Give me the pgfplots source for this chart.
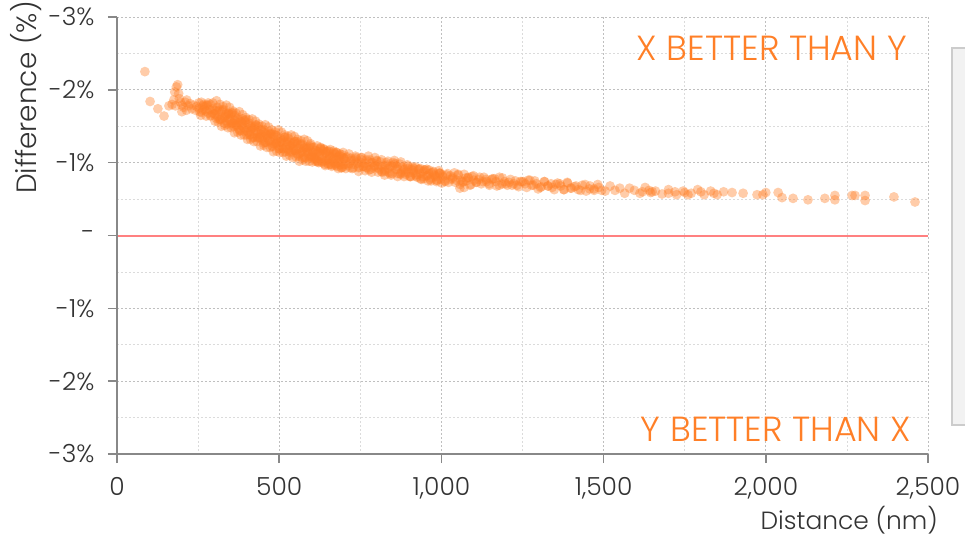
\documentclass[border=0pt]{standalone}
\usepackage{fontspec}
\setmainfont{Poppins}[UprightFont={* Light}]
\usepackage{pgfplots}
\pgfplotsset{compat=1.18}
\definecolor{orng}{RGB}{255,127,39}
\definecolor{zl}{RGB}{255,128,128}
\definecolor{axgray}{RGB}{136,136,136}
\definecolor{txt}{RGB}{51,51,51}
\pgfplotstableread{
x y
86 -2.25
102 -1.84
126 -1.74
145 -1.64
160 -1.78
170 -1.80
175 -1.86
180 -1.78
178 -1.97
183 -2.04
187 -2.07
190 -1.95
192 -1.88
196 -1.83
200 -1.79
200 -1.70
205 -1.76
210 -1.83
214 -1.72
215 -1.86
220 -1.78
225 -1.81
230 -1.74
236 -1.79
242 -1.72
246 -1.77
255 -1.70
260 -1.83
265 -1.72
270 -1.77
275 -1.64
280 -1.79
285 -1.73
290 -1.65
295 -1.82
300 -1.67
305 -1.71
310 -1.63
315 -1.73
320 -1.59
252 -1.82
258 -1.65
264 -1.78
270 -1.73
276 -1.79
282 -1.68
288 -1.80
294 -1.68
300 -1.72
306 -1.61
312 -1.71
318 -1.60
253 -1.75
260 -1.69
267 -1.80
274 -1.71
281 -1.82
288 -1.64
295 -1.74
302 -1.67
309 -1.76
316 -1.59
323 -1.70
324 -1.61
328 -1.73
332 -1.62
336 -1.66
340 -1.53
344 -1.67
348 -1.60
352 -1.53
356 -1.69
360 -1.54
364 -1.58
368 -1.50
372 -1.60
376 -1.46
380 -1.57
384 -1.51
388 -1.60
392 -1.47
396 -1.56
400 -1.38
404 -1.42
408 -1.54
412 -1.43
416 -1.48
420 -1.35
424 -1.49
428 -1.42
432 -1.34
436 -1.50
440 -1.35
444 -1.39
448 -1.31
452 -1.42
456 -1.28
460 -1.39
464 -1.33
468 -1.43
472 -1.30
476 -1.39
480 -1.22
484 -1.26
488 -1.38
492 -1.27
496 -1.32
500 -1.19
504 -1.33
508 -1.27
512 -1.19
516 -1.35
520 -1.21
524 -1.25
528 -1.18
532 -1.28
536 -1.14
540 -1.26
544 -1.20
548 -1.29
552 -1.17
556 -1.26
560 -1.09
564 -1.13
568 -1.26
572 -1.15
576 -1.19
580 -1.07
584 -1.21
588 -1.15
592 -1.07
596 -1.24
600 -1.09
604 -1.14
608 -1.06
612 -1.17
616 -1.03
620 -1.15
624 -1.09
628 -1.19
632 -1.06
636 -1.16
640 -0.98
644 -1.03
648 -1.15
652 -1.05
656 -1.09
660 -0.97
664 -1.12
668 -1.05
672 -0.98
676 -1.14
680 -1.00
684 -1.05
688 -0.97
692 -1.08
696 -0.94
700 -1.06
326 -1.72
332 -1.54
338 -1.67
344 -1.60
350 -1.66
356 -1.54
362 -1.65
368 -1.52
374 -1.55
380 -1.44
386 -1.54
392 -1.43
398 -1.59
404 -1.52
410 -1.38
416 -1.47
422 -1.40
428 -1.51
434 -1.35
440 -1.39
446 -1.45
452 -1.27
458 -1.40
464 -1.34
470 -1.39
476 -1.27
482 -1.39
488 -1.26
494 -1.30
500 -1.19
506 -1.30
512 -1.19
518 -1.35
524 -1.29
530 -1.15
536 -1.24
542 -1.18
548 -1.29
554 -1.13
560 -1.19
566 -1.25
572 -1.07
578 -1.20
584 -1.14
590 -1.20
596 -1.09
602 -1.21
608 -1.08
614 -1.12
620 -1.02
626 -1.13
632 -1.02
638 -1.18
644 -1.13
650 -0.99
656 -1.08
662 -1.03
668 -1.14
674 -0.99
680 -1.04
686 -1.10
692 -0.93
698 -1.06
333 -1.64
338 -1.57
343 -1.68
348 -1.57
353 -1.68
358 -1.50
363 -1.59
368 -1.52
373 -1.62
378 -1.44
383 -1.56
388 -1.49
393 -1.58
398 -1.44
403 -1.48
408 -1.39
413 -1.50
418 -1.34
423 -1.46
428 -1.52
433 -1.41
438 -1.34
443 -1.45
448 -1.34
453 -1.45
458 -1.28
463 -1.37
468 -1.30
473 -1.40
478 -1.23
483 -1.35
488 -1.28
493 -1.37
498 -1.23
503 -1.28
508 -1.20
513 -1.31
518 -1.15
523 -1.27
528 -1.33
533 -1.23
538 -1.16
543 -1.27
548 -1.17
553 -1.29
558 -1.11
563 -1.20
568 -1.14
573 -1.24
578 -1.07
583 -1.19
588 -1.13
593 -1.22
598 -1.08
603 -1.14
608 -1.05
613 -1.16
618 -1.01
623 -1.13
628 -1.20
633 -1.09
638 -1.02
643 -1.14
648 -1.04
653 -1.16
658 -0.98
663 -1.08
668 -1.01
673 -1.12
678 -0.95
683 -1.08
688 -1.01
693 -1.11
698 -0.97
302 -1.57
307 -1.85
312 -1.56
317 -1.80
322 -1.50
327 -1.77
332 -1.51
337 -1.79
342 -1.48
347 -1.76
352 -1.48
357 -1.71
362 -1.41
367 -1.68
372 -1.42
377 -1.70
382 -1.38
387 -1.66
392 -1.38
397 -1.62
402 -1.32
407 -1.59
412 -1.32
417 -1.60
422 -1.29
427 -1.57
432 -1.29
437 -1.53
442 -1.23
447 -1.50
452 -1.24
457 -1.52
462 -1.21
467 -1.49
472 -1.21
477 -1.45
482 -1.15
487 -1.42
492 -1.16
497 -1.45
502 -1.14
507 -1.42
512 -1.14
517 -1.38
522 -1.09
527 -1.36
532 -1.10
537 -1.38
542 -1.07
547 -1.36
552 -1.08
557 -1.32
562 -1.02
567 -1.30
572 -1.04
577 -1.32
582 -1.02
587 -1.30
592 -1.02
597 -1.26
602 -1.01
607 -1.21
612 -1.02
617 -1.23
622 -1.00
627 -1.21
632 -1.00
637 -1.19
642 -0.96
647 -1.16
652 -0.97
657 -1.18
662 -0.95
667 -1.16
672 -0.96
677 -1.14
682 -0.92
687 -1.12
692 -0.93
697 -1.14
704 -0.98
710 -1.08
716 -0.99
722 -1.03
728 -0.93
734 -1.05
740 -1.00
746 -0.94
752 -1.07
758 -0.95
764 -0.99
770 -0.93
776 -1.01
782 -0.91
788 -1.00
794 -0.96
800 -1.03
806 -0.93
812 -1.01
818 -0.87
824 -0.90
830 -1.00
836 -0.92
842 -0.95
848 -0.85
854 -0.97
860 -0.91
866 -0.85
872 -0.98
878 -0.87
884 -0.90
890 -0.84
896 -0.92
902 -0.81
908 -0.91
914 -0.86
920 -0.94
926 -0.84
932 -0.91
938 -0.77
944 -0.81
950 -0.90
956 -0.82
962 -0.85
968 -0.75
974 -0.87
980 -0.82
986 -0.76
992 -0.89
998 -0.77
1004 -0.81
1010 -0.75
1016 -0.83
1022 -0.73
1028 -0.82
1034 -0.78
1040 -0.86
1046 -0.76
1052 -0.84
1058 -0.70
1064 -0.73
1070 -0.84
1076 -0.75
1082 -0.79
1088 -0.69
1094 -0.81
1100 -0.76
1057 -0.65
1070 -0.66
707 -1.07
719 -0.93
731 -1.03
743 -0.99
755 -1.04
767 -0.94
779 -1.04
791 -0.93
803 -0.97
815 -0.88
827 -0.96
839 -0.87
851 -1.00
863 -0.95
875 -0.84
887 -0.91
899 -0.86
911 -0.94
923 -0.81
935 -0.85
947 -0.90
959 -0.75
971 -0.86
983 -0.81
995 -0.85
705 -1.02
713 -0.96
721 -1.06
729 -0.98
737 -1.07
745 -0.93
753 -1.00
761 -0.95
769 -1.04
777 -0.90
785 -1.00
793 -0.95
801 -1.02
809 -0.91
817 -0.95
825 -0.88
833 -0.97
841 -0.85
849 -0.95
857 -0.99
865 -0.91
873 -0.85
881 -0.94
889 -0.87
897 -0.95
905 -0.81
913 -0.89
921 -0.83
929 -0.91
937 -0.78
945 -0.88
953 -0.82
961 -0.90
969 -0.79
977 -0.83
985 -0.76
993 -0.85
1001 -0.72
705 -0.92
715 -1.12
725 -0.92
735 -1.09
745 -0.88
755 -1.07
765 -0.89
775 -1.09
785 -0.87
795 -1.07
805 -0.87
815 -1.04
825 -0.83
835 -1.02
845 -0.83
855 -1.03
865 -0.81
875 -1.01
885 -0.81
895 -0.97
905 -0.81
915 -0.92
925 -0.80
935 -0.92
945 -0.78
955 -0.91
965 -0.77
975 -0.88
985 -0.74
995 -0.86
1003 -0.83
1011 -0.74
1019 -0.85
1027 -0.77
1035 -0.80
1043 -0.73
1051 -0.83
1059 -0.76
1067 -0.74
1075 -0.79
1083 -0.80
1091 -0.70
1099 -0.82
1107 -0.73
1115 -0.77
1123 -0.71
1131 -0.80
1139 -0.74
1147 -0.71
1155 -0.77
1163 -0.78
1171 -0.68
1179 -0.80
1187 -0.71
1195 -0.74
1203 -0.69
1213 -0.77
1223 -0.71
1233 -0.69
1243 -0.74
1253 -0.74
1263 -0.66
1273 -0.76
1283 -0.69
1293 -0.71
1305 -0.66
1317 -0.74
1329 -0.68
1341 -0.66
1353 -0.70
1365 -0.71
1377 -0.63
1389 -0.72
1401 -0.65
1415 -0.68
1429 -0.62
1443 -0.70
1457 -0.64
1471 -0.62
1485 -0.66
1108 -0.73
1118 -0.80
1128 -0.74
1138 -0.77
1148 -0.69
1158 -0.78
1168 -0.74
1178 -0.69
1188 -0.79
1198 -0.71
1208 -0.73
1218 -0.69
1228 -0.75
1238 -0.67
1248 -0.74
1258 -0.71
1268 -0.76
1278 -0.69
1288 -0.75
1298 -0.64
1308 -0.67
1318 -0.74
1328 -0.68
1338 -0.71
1348 -0.63
1358 -0.72
1368 -0.68
1378 -0.63
1388 -0.73
1398 -0.65
1410 -0.67
1422 -0.63
1434 -0.69
1446 -0.61
1458 -0.68
1470 -0.64
1482 -0.70
1494 -0.62
1505 -0.61
1520 -0.68
1535 -0.62
1550 -0.65
1565 -0.58
1580 -0.65
1595 -0.62
1612 -0.58
1628 -0.66
1645 -0.59
1660 -0.61
1680 -0.57
1700 -0.63
1725 -0.56
1745 -0.61
1770 -0.58
1790 -0.63
1810 -0.56
1830 -0.61
1620 -0.60
1640 -0.62
1650 -0.60
1700 -0.58
1720 -0.60
1750 -0.59
1760 -0.56
1800 -0.60
1840 -0.58
1850 -0.56
1870 -0.60
1896 -0.59
1930 -0.58
1973 -0.56
1991 -0.56
2000 -0.59
2038 -0.59
2050 -0.52
2084 -0.51
2130 -0.49
2182 -0.51
2213 -0.55
2213 -0.49
2266 -0.55
2275 -0.55
2306 -0.55
2306 -0.48
2395 -0.53
2460 -0.46
}\pts
\begin{document}
\begin{tikzpicture}
\begin{axis}[
  at={(0,0)}, anchor=south west,
  scale only axis, width=811bp, height=437bp,
  xmin=0, xmax=2500, ymin=-3, ymax=3, y dir=reverse,
  xtick={0,500,1000,1500,2000,2500},
  xticklabels={0,500,{1,000},{1,500},{2,000},{2,500}},
  ytick={-3,-2,-1,0,1,2,3},
  yticklabels={-3\%,-2\%,-1\%,-,-1\%,-2\%,-3\%},
  minor xtick={250,750,1250,1750,2250},
  minor ytick={-2.5,-1.5,-0.5,0.5,1.5,2.5},
  grid=both,
  major grid style={gray!50, dash pattern=on 2bp off 2bp, line width=0.8bp},
  minor grid style={gray!28, dash pattern=on 2bp off 2bp, line width=0.8bp},
  axis line style={draw=none},
  tick align=outside,
  major tick length=9bp, minor tick length=0pt,
  major tick style={axgray, line width=1.6bp},
  xtick pos=bottom, ytick pos=left,
  tick label style={font=\fontsize{25}{28}\selectfont, text=txt},
  yticklabel style={xshift=-10bp},
  xticklabel style={yshift=-11bp},
  clip=false,
]
\draw[zl, line width=2bp] (axis cs:0,0) -- (axis cs:2500,0);
\addplot[orng, only marks, mark=*, mark size=4.9bp, mark options={draw opacity=0, fill=orng, fill opacity=0.4}] table {\pts};
\draw[axgray, line width=2bp] (axis cs:0,-3) -- (axis cs:0,3) -- (axis cs:2500,3);
\end{axis}
\node[anchor=east, inner sep=0pt, text=orng, font=\fontsize{35}{40}\selectfont] at (790bp,406bp) {X BETTER THAN Y};
\node[anchor=east, inner sep=0pt, text=orng, font=\fontsize{35}{40}\selectfont] at (794bp,25bp) {Y BETTER THAN X};
\node[anchor=base east, inner sep=0pt, text=txt, font=\fontsize{25}{30}\selectfont] at (821bp,-75bp) {Distance (nm)};
\node[anchor=base, rotate=90, inner sep=0pt, text=txt, font=\fontsize{28}{32}\selectfont] at (-80bp,356.5bp) {Difference (\%)};
\fill[gray!10] (835bp,29bp) rectangle (900bp,406bp);
\draw[gray!40, line width=1.5bp] (835bp,29bp) rectangle (900bp,406bp);
\pgfresetboundingbox
\useasboundingbox (-117bp,-83bp) rectangle (848bp,454bp);
\end{tikzpicture}
\end{document}
